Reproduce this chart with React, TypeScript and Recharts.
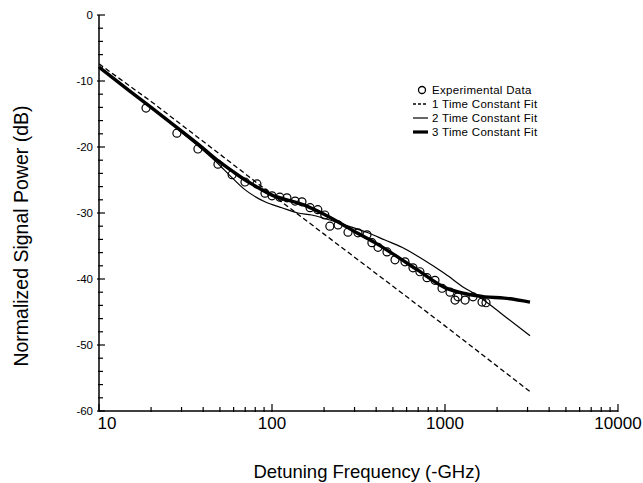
import React from 'react';
import { ComposedChart, Line, Scatter, XAxis, YAxis } from 'recharts';

// Experimental data (detuning frequency in -GHz, normalized power in dB)
const expFreq = [18.7, 28.2, 37.3, 48.7, 58.8, 69.8, 81.8, 91.1, 100, 111, 122, 136, 149, 166, 184, 202, 216, 241, 275, 314, 354, 378, 410, 462, 514, 587, 653, 716, 787, 875, 961, 1069, 1143, 1189, 1306, 1452, 1637, 1726];
const expPower = [-14.1, -17.9, -20.3, -22.6, -24.2, -25.3, -25.6, -27.0, -27.4, -27.6, -27.7, -28.2, -28.3, -29.2, -29.5, -30.3, -32.0, -31.8, -32.9, -33.0, -33.3, -34.5, -35.2, -35.9, -37.1, -37.4, -38.3, -38.9, -39.8, -40.2, -41.4, -42.0, -43.2, -42.7, -43.2, -42.7, -43.5, -43.6];

// 1 time constant fit
const fit1Freq = [10, 20, 50, 100, 200, 500, 1000, 2000, 3150];
const fit1Power = [-7.4, -13.1, -21.1, -27.2, -33.2, -41.1, -47.1, -53.2, -57.2];

// 2 time constant fit
const fit2Freq = [10, 20, 30, 40, 50, 56, 70, 91, 114, 141, 170, 200, 250, 300, 359, 450, 564, 700, 875, 1000, 1306, 1450, 1820, 2280, 3100];
const fit2Power = [-7.9, -14.0, -17.8, -20.5, -22.8, -24.1, -26.5, -28.3, -29.2, -30.0, -30.3, -30.8, -31.6, -32.3, -33.0, -34.1, -35.2, -36.6, -38.2, -39.2, -41.4, -42.1, -43.9, -45.9, -48.6];

// 3 time constant fit
const fit3Freq = [10, 15, 20, 30, 40, 50, 60, 70, 80, 100, 130, 160, 200, 250, 300, 400, 500, 700, 1000, 1300, 1700, 2200, 3100];
const fit3Power = [-7.9, -11.5, -14.0, -17.6, -20.2, -22.3, -23.8, -25.0, -25.9, -27.3, -28.2, -29.0, -30.2, -31.6, -32.8, -34.6, -36.2, -38.7, -41.3, -42.2, -42.7, -42.9, -43.5];

const xMajorTicks = [10, 100, 1000, 10000];
const xTicks = [10, 20, 30, 40, 50, 60, 70, 80, 90, 100, 200, 300, 400, 500, 600, 700, 800, 900, 1000, 2000, 3000, 4000, 5000, 6000, 7000, 8000, 9000, 10000];
const yTicks = [0, -2, -4, -6, -8, -10, -12, -14, -16, -18, -20, -22, -24, -26, -28, -30, -32, -34, -36, -38, -40, -42, -44, -46, -48, -50, -52, -54, -56, -58, -60];

const legendLabels = ['Experimental Data', '1 Time Constant Fit', '2 Time Constant Fit', '3 Time Constant Fit'];
const xTitle = 'Detuning Frequency (-GHz)';
const yTitle = 'Normalized Signal Power (dB)';

const zip = (xs: number[], ys: number[]) => xs.map((x, i) => ({ x, y: ys[i] }));
const expData = zip(expFreq, expPower);
const fit1Data = zip(fit1Freq, fit1Power);
const fit2Data = zip(fit2Freq, fit2Power);
const fit3Data = zip(fit3Freq, fit3Power);

const FONT = '"Liberation Sans", Arial, Helvetica, sans-serif';

const XTick = (props: any) => {
  const { x, y, payload } = props;
  const v = payload.value;
  const major = xMajorTicks.includes(v);
  return (
    <g>
      <line x1={x} x2={x} y1={y + 1} y2={y - (major ? 7 : 4)} stroke="#000" strokeWidth={1.2} />
      {major && (
        <text x={x + (v === 10 ? 8 : 0)} y={y + 18} textAnchor="middle" fontSize={17} fontFamily={FONT} fill="#000">
          {v}
        </text>
      )}
    </g>
  );
};

const YTick = (props: any) => {
  const { x, y, payload } = props;
  const v = payload.value;
  const major = v % 10 === 0;
  return (
    <g>
      <line x1={x - (major ? 2 : 1)} x2={x + (major ? 6 : 4)} y1={y} y2={y} stroke="#000" strokeWidth={1.2} />
      {major && (
        <text x={x - 6} y={y + 4} textAnchor="end" fontSize={11.5} fontFamily={FONT} fill="#000">
          {v}
        </text>
      )}
    </g>
  );
};

const XTitle = () => (
  <text x={367} y={478} textAnchor="middle" fontSize={18.5} fontFamily={FONT} fill="#000">
    {xTitle}
  </text>
);

const YTitle = () => (
  <text x={28} y={236} transform="rotate(-90 28 236)" textAnchor="middle" fontSize={19.5} fontFamily={FONT} fill="#000">
    {yTitle}
  </text>
);

const circleShape = (props: any) => {
  const { cx, cy } = props;
  if (cx == null || cy == null) return <g />;
  return <circle cx={cx} cy={cy} r={4} fill="none" stroke="#000" strokeWidth={1.2} />;
};

const LegendBox = () => {
  const row = (i: number, sample: React.ReactNode) => (
    <div key={i} style={{ display: 'flex', alignItems: 'center', height: 14 }}>
      <svg width={20} height={10} style={{ marginRight: 1 }}>{sample}</svg>
      <span style={{ fontSize: 11.5, letterSpacing: 0.3, lineHeight: '14px' }}>{legendLabels[i]}</span>
    </div>
  );
  return (
    <div style={{ position: 'absolute', left: 411, top: 83, fontFamily: FONT, color: '#000' }}>
      {row(0, <circle cx={11} cy={5} r={3.5} fill="none" stroke="#000" strokeWidth={1.3} />)}
      {row(1, <line x1={2} x2={17} y1={5} y2={5} stroke="#000" strokeWidth={1.3} strokeDasharray="3 2" />)}
      {row(2, <line x1={2} x2={17} y1={5} y2={5} stroke="#000" strokeWidth={1.2} />)}
      {row(3, <line x1={2} x2={17} y1={5} y2={5} stroke="#000" strokeWidth={3.2} />)}
    </div>
  );
};

export default function App() {
  return (
    <div style={{ position: 'absolute', left: 0, top: 0, width: 643, height: 483, background: '#fff' }}>
      <ComposedChart width={643} height={483} margin={{ top: 15, right: 25, bottom: 0, left: 0 }}>
        <XAxis
          xAxisId="main"
          dataKey="x"
          type="number"
          scale="log"
          domain={[10, 10000]}
          allowDataOverflow
          ticks={xTicks}
          interval={0}
          tickSize={0}
          tickMargin={0}
          tickLine={false}
          tick={<XTick />}
          height={72}
          axisLine={{ stroke: '#000', strokeWidth: 1.5 }}
          label={<XTitle />}
        />
        <XAxis
          xAxisId="top"
          orientation="top"
          dataKey="x"
          type="number"
          scale="log"
          domain={[10, 10000]}
          allowDataOverflow
          height={0}
          tick={false}
          tickLine={false}
          axisLine={{ stroke: '#000', strokeWidth: 1.5 }}
        />
        <YAxis
          yAxisId="main"
          type="number"
          domain={[-60, 0]}
          allowDataOverflow
          ticks={yTicks}
          interval={0}
          tickSize={0}
          tickMargin={0}
          tickLine={false}
          tick={<YTick />}
          width={99}
          axisLine={{ stroke: '#000', strokeWidth: 1.5 }}
          label={<YTitle />}
        />
        <YAxis
          yAxisId="right"
          orientation="right"
          type="number"
          domain={[-60, 0]}
          width={0}
          tick={false}
          tickLine={false}
          axisLine={{ stroke: '#000', strokeWidth: 1.5 }}
        />
        <Line xAxisId="main" yAxisId="main" data={fit1Data} dataKey="y" type="linear" stroke="#000" strokeWidth={1.3} strokeDasharray="5 3" dot={false} isAnimationActive={false} />
        <Line xAxisId="main" yAxisId="main" data={fit2Data} dataKey="y" type="monotone" stroke="#000" strokeWidth={1.2} dot={false} isAnimationActive={false} />
        <Line xAxisId="main" yAxisId="main" data={fit3Data} dataKey="y" type="monotone" stroke="#000" strokeWidth={3.4} dot={false} isAnimationActive={false} />
        <Scatter xAxisId="main" yAxisId="main" data={expData} dataKey="y" shape={circleShape} isAnimationActive={false} />
      </ComposedChart>
      <LegendBox />
    </div>
  );
}
